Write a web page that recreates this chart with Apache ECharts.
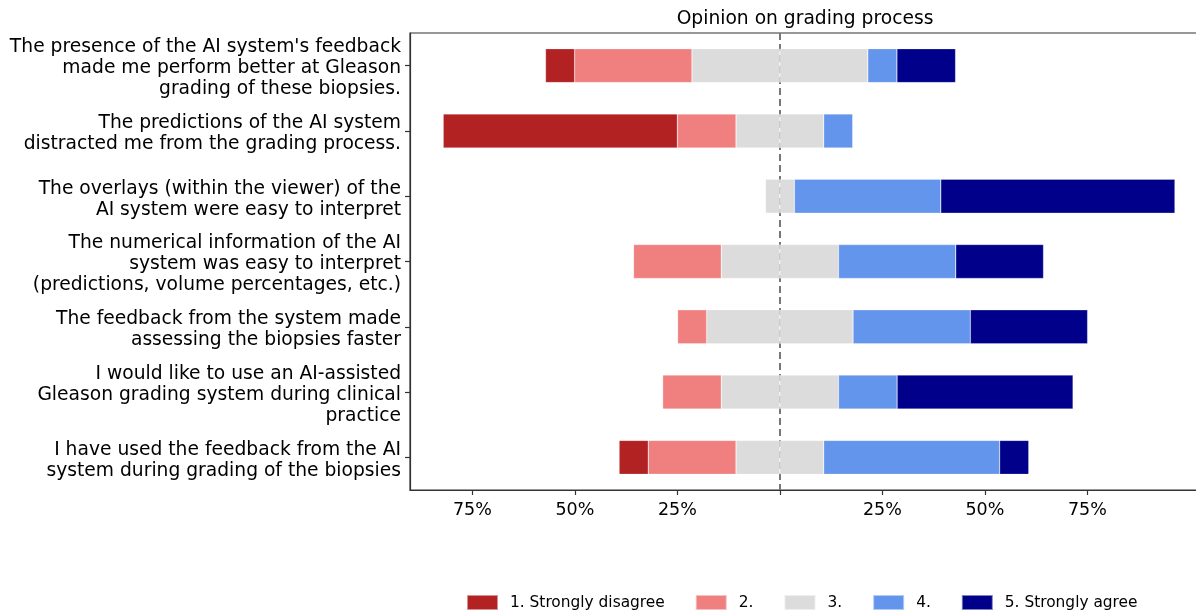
<!DOCTYPE html>
<html>
<head>
<meta charset="utf-8">
<script src="https://cdn.jsdelivr.net/npm/echarts@6/dist/echarts.min.js"></script>
<style>
html,body{margin:0;padding:0;background:#fff;}
#chart{width:1196px;height:614px;}
</style>
</head>
<body>
<div id="chart"></div>
<script>
const titleText = 'Opinion on grading process';
const categories = [
  "The presence of the AI system's feedback\nmade me perform better at Gleason\ngrading of these biopsies.",
  "The predictions of the AI system\ndistracted me from the grading process.",
  "The overlays (within the viewer) of the\nAI system were easy to interpret",
  "The numerical information of the AI\nsystem was easy to interpret\n(predictions, volume percentages, etc.)",
  "The feedback from the system made\nassessing the biopsies faster",
  "I would like to use an AI-assisted\nGleason grading system during clinical\npractice",
  "I have used the feedback from the AI\nsystem during grading of the biopsies"
];
const levelNames = ['1. Strongly disagree', '2.', '3.', '4.', '5. Strongly agree'];
// percentages of respondents per answer level
const level1 = [7.1, 57.1, 0, 0, 0, 0, 7.1];
const level2 = [28.6, 14.3, 0, 21.4, 7.1, 14.3, 21.4];
const level3 = [42.9, 21.4, 7.1, 28.6, 35.7, 28.6, 21.4];
const level4 = [7.1, 7.1, 35.7, 28.6, 28.6, 14.3, 42.9];
const level5 = [14.3, 0, 57.1, 21.4, 28.6, 42.9, 7.1];
const tickValues = [-75, -50, -25, 25, 50, 75];

const colors = ['#B22222', '#F08080', '#DCDCDC', '#6495ED', '#00008B'];
const FONT = 'DejaVu Sans';

const chart = echarts.init(document.getElementById('chart'), null, {renderer: 'canvas'});

function barSeries(name, data, color) {
  return {
    name: name, type: 'bar', stack: 'likert', data: data,
    barWidth: '52%', z: 3, zlevel: 1,
    itemStyle: {color: color, borderColor: 'rgba(255,255,255,0.5)', borderWidth: 0.5},
    emphasis: {disabled: true}
  };
}

const option = {
  animation: false,
  textStyle: {fontFamily: FONT},
  title: {
    text: titleText, left: 800, top: 5, textAlign: 'center',
    textStyle: {fontFamily: FONT, fontSize: 18.7, fontWeight: 'normal', color: '#000'}
  },
  legend: {
    data: levelNames, left: 466, top: 594, padding: 0, itemWidth: 31, itemHeight: 15, itemGap: 30,
    icon: 'rect',
    textStyle: {fontFamily: FONT, fontSize: 15.4, color: '#000', padding: [0, 0, 0, 7]}
  },
  grid: {left: 410, width: 800, top: 33, height: 457, outerBoundsMode: 'none', containLabel: false,
    show: true, borderColor: '#333', borderWidth: 1.2},
  xAxis: {
    type: 'value', min: -90.2, max: 104.9,
    axisLine: {show: true, onZero: false, lineStyle: {color: '#333', width: 1.2}},
    axisTick: {show: true, length: 5, lineStyle: {color: '#333', width: 1.2}, customValues: [-75, -50, -25, 0, 25, 50, 75]},
    axisLabel: {customValues: tickValues, margin: 11, fontFamily: FONT, fontSize: 17.5, color: '#000',
      formatter: v => v === 0 ? '' : Math.abs(v) + '%'},
    splitLine: {show: false}
  },
  yAxis: {
    type: 'category', data: categories, inverse: true,
    axisLine: {show: true, onZero: false, lineStyle: {color: '#333', width: 1.2}},
    axisTick: {show: true, alignWithLabel: true, interval: 0, length: 5, lineStyle: {color: '#333', width: 1.2}},
    axisLabel: {interval: 0, hideOverlap: false, margin: 9, fontFamily: FONT, fontSize: 18.7, lineHeight: 21,
      color: '#000', align: 'right',
      formatter: v => '{s|}\n' + v,
      rich: {s: {lineHeight: 6, fontSize: 4}}}
  },
  series: [
    {
      name: 'zero', type: 'line', data: [], z: 1, silent: true,
      markLine: {
        symbol: 'none', silent: true, label: {show: false},
        lineStyle: {color: '#777', width: 2, type: [7, 4]},
        data: [{xAxis: 0}]
      }
    },
    barSeries('3.', level3.map(v => -v / 2), colors[2]),
    barSeries('2.', level2.map(v => -v), colors[1]),
    barSeries('1. Strongly disagree', level1.map(v => -v), colors[0]),
    barSeries('3.', level3.map(v => v / 2), colors[2]),
    barSeries('4.', level4, colors[3]),
    barSeries('5. Strongly agree', level5, colors[4])
  ]
};
chart.setOption(option);
</script>
</body>
</html>
